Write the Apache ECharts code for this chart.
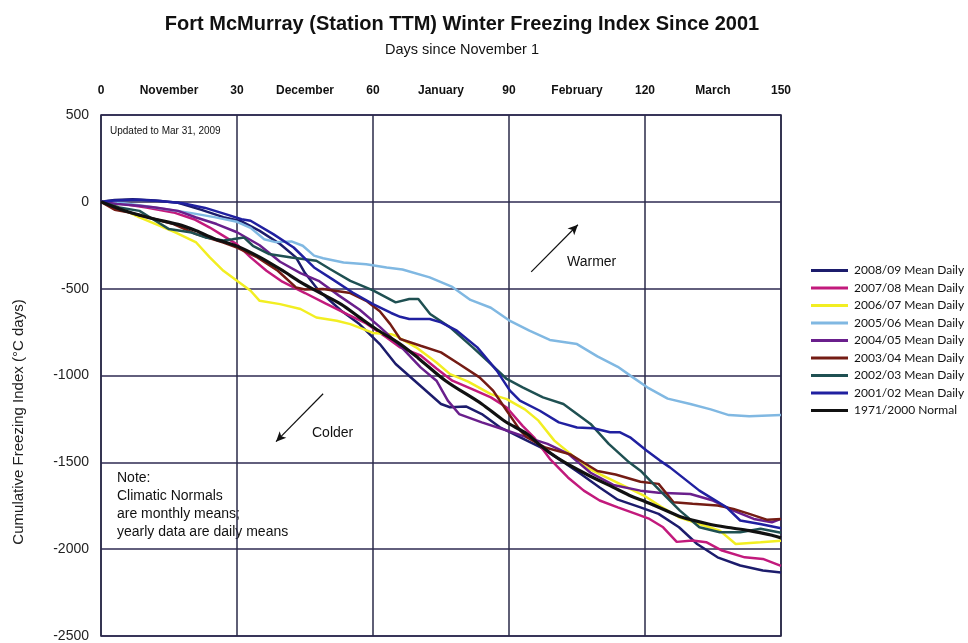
<!DOCTYPE html>
<html>
<head>
<meta charset="utf-8">
<script src="https://cdn.jsdelivr.net/npm/echarts@6/dist/echarts.min.js"></script>
<style>
  html, body { margin: 0; padding: 0; background: #fff; }
  #chart { width: 968px; height: 643px; }
</style>
</head>
<body>
<div id="chart"></div>
<script>
// Tick labels along the top axis (every 15 days: day counts and month names)
const topLabels = ['0', 'November', '30', 'December', '60', 'January', '90', 'February', '120', 'March', '150'];

// Series names in legend order
const seriesNames = [
  '2008/09 Mean Daily', '2007/08 Mean Daily', '2006/07 Mean Daily', '2005/06 Mean Daily',
  '2004/05 Mean Daily', '2003/04 Mean Daily', '2002/03 Mean Daily', '2001/02 Mean Daily',
  '1971/2000 Normal'
];

// Cumulative freezing index, [days since Nov 1, °C days]
const s2008 = [[0,0],[3,10],[7,15],[12,8],[17,-5],[22,-45],[27,-88],[31,-112],[35,-167],[39.5,-243],[43,-320],[45,-410],[48,-510],[53,-627],[57,-704],[61.5,-819],[65,-934],[70,-1049],[75,-1164],[77,-1183],[80.5,-1178],[84,-1222],[88,-1298],[92.5,-1356],[97,-1414],[101,-1480],[106,-1570],[110,-1645],[114,-1715],[119,-1759],[123,-1797],[127.5,-1874],[131.5,-1970],[136,-2047],[141,-2094],[146,-2123],[150,-2135]];
const s2007 = [[0,0],[5,-13],[10,-33],[16,-61],[20.5,-100],[24,-148],[27,-196],[30,-245],[33,-320],[36.5,-397],[40,-460],[45,-525],[49.5,-585],[54.5,-650],[58.5,-700],[63,-781],[66,-838],[70.5,-885],[74,-960],[77.5,-1030],[82,-1080],[86,-1126],[89.5,-1184],[93,-1290],[95.5,-1356],[99,-1480],[103,-1587],[106.5,-1663],[110,-1720],[114,-1759],[118,-1797],[121,-1826],[124,-1874],[127,-1958],[130.5,-1950],[133.5,-1960],[137,-2008],[142,-2047],[146,-2056],[150,-2096]];
const s2006 = [[0,0],[4,-33],[8.5,-90],[13,-138],[16.5,-177],[21,-234],[24,-320],[27,-397],[30,-455],[33,-512],[35,-570],[39.5,-589],[44,-617],[47.5,-666],[52,-685],[55,-704],[60,-755],[64,-762],[65,-771],[69.5,-838],[74,-925],[77,-992],[81,-1035],[86,-1107],[89.5,-1136],[93.5,-1195],[96.5,-1260],[100,-1375],[103.5,-1450],[107,-1529],[111.5,-1587],[116.5,-1650],[120,-1695],[123.5,-1755],[127.5,-1816],[132,-1855],[136.5,-1893],[140,-1970],[145.5,-1960],[150,-1951]];
const s2005 = [[0,0],[5,-8],[10,-25],[15,-45],[20,-65],[25,-88],[30,-115],[33,-150],[36,-215],[38.5,-232],[42,-228],[44.5,-253],[47,-310],[49,-325],[53.5,-349],[58.5,-360],[63,-378],[66.5,-390],[72.5,-435],[77.5,-490],[81.5,-565],[86,-610],[90,-682],[94.5,-742],[99,-795],[105,-819],[109.5,-890],[114,-950],[117,-1005],[120.5,-1068],[125,-1133],[130,-1164],[134.5,-1195],[138.5,-1228],[143,-1235],[150,-1228]];
const s2004 = [[0,0],[3.5,-13],[8.5,-23],[12,-33],[17,-52],[21,-90],[25.5,-128],[30,-175],[35,-250],[39.5,-345],[44,-410],[48,-455],[52.5,-540],[57,-620],[61.5,-720],[66,-830],[70.5,-953],[74,-1030],[76.5,-1145],[79,-1222],[84,-1270],[88.5,-1308],[94,-1356],[98.5,-1394],[103,-1450],[108,-1560],[113,-1630],[119,-1663],[123,-1675],[130,-1682],[135,-1720],[139.5,-1778],[144,-1826],[148,-1845],[150,-1826]];
const s2003 = [[0,0],[3,-45],[6,-60],[9,-80],[12,-100],[16,-128],[21,-186],[27,-234],[30,-263],[34.5,-320],[39,-397],[43,-493],[45,-505],[49,-502],[55,-525],[58.5,-570],[61.5,-630],[63.8,-704],[66,-790],[70.5,-829],[75,-867],[79,-934],[83.5,-1011],[86.5,-1087],[88,-1145],[89.5,-1203],[91,-1260],[92.5,-1318],[94,-1356],[98,-1415],[103.5,-1454],[109.5,-1550],[113.5,-1570],[119,-1612],[123,-1624],[126.3,-1730],[130.5,-1739],[136,-1749],[139.5,-1768],[143,-1797],[147,-1831],[150,-1826]];
const s2002 = [[0,0],[4,-33],[8.5,-52],[12,-109],[15,-157],[17.5,-167],[20,-177],[23,-205],[27,-222],[29,-215],[31.5,-205],[33.5,-253],[37,-300],[42,-320],[47.5,-339],[50.5,-387],[55,-455],[60,-510],[65,-579],[68,-560],[70,-560],[72.6,-646],[77,-723],[82,-838],[86,-934],[89.5,-1020],[93,-1068],[97.5,-1126],[102,-1164],[108,-1279],[112,-1394],[116.5,-1500],[119,-1548],[123.3,-1663],[127.7,-1778],[132,-1874],[136.5,-1903],[141,-1903],[145.5,-1883],[150,-1905]];
const s2001 = [[0,0],[3,8],[8,12],[13,5],[18,-8],[23,-35],[28,-75],[31,-100],[33,-109],[38,-186],[42.5,-263],[47,-378],[51,-445],[55.5,-522],[60,-589],[64,-640],[66,-662],[68,-675],[72.5,-675],[75,-694],[78.5,-742],[83,-838],[87.3,-972],[90.2,-1087],[92.4,-1145],[96.8,-1203],[101,-1270],[105,-1299],[108.6,-1304],[112.3,-1327],[114.5,-1327],[116.7,-1356],[120.4,-1433],[123.3,-1490],[125.5,-1529],[132,-1663],[138,-1759],[141,-1835],[145.4,-1855],[150,-1880]];
const sNormal = [[0,0],[5,-50],[9,-80],[12,-100],[17,-130],[21,-167],[25,-212],[30,-255],[35,-318],[40,-395],[44,-462],[48,-520],[53,-590],[57,-665],[61,-738],[66,-819],[70,-900],[76,-1030],[84,-1164],[89,-1262],[94,-1337],[97,-1405],[101,-1480],[107,-1567],[113,-1644],[117,-1695],[120,-1725],[124,-1770],[128,-1815],[134,-1855],[138,-1874],[143,-1893],[148,-1920],[150,-1935]];

const seriesData = [s2008, s2007, s2006, s2005, s2004, s2003, s2002, s2001, sNormal];
const seriesColors = ['#1c1c6c', '#c21a7c', '#f2ee22', '#80b8e2', '#6a1f8c', '#741c14', '#1f5052', '#2020a0', '#111111'];
const seriesWidths = [2.5, 2.5, 2.5, 2.5, 2.5, 2.5, 2.5, 2.5, 3.2];

const FONT = '"Liberation Sans", Arial, sans-serif';
const LEGEND_FONT = 'Lato, "Open Sans", sans-serif';

const chart = echarts.init(document.getElementById('chart'), null, { renderer: 'canvas' });

const lineSeries = seriesNames.map((name, i) => ({
  name: name,
  type: 'line',
  data: seriesData[i],
  showSymbol: false,
  symbol: 'none',
  smooth: i === 8 ? 0.3 : false,
  lineStyle: { color: seriesColors[i], width: seriesWidths[i] },
  itemStyle: { color: seriesColors[i] },
  z: i === 8 ? 5 : 3,
  animation: false
}));

// Direction hints drawn in data space
const arrowSeries = {
  name: 'hints',
  type: 'line',
  data: [],
  silent: true,
  animation: false,
  markLine: {
    silent: true,
    animation: false,
    symbol: ['none', 'arrow'],
    symbolSize: [7, 10],
    label: { show: false },
    lineStyle: { color: '#111', width: 1.2, type: 'solid' },
    data: [
      [{ coord: [94.9, -403] }, { coord: [105.2, -132] }],
      [{ coord: [49, -1105] }, { coord: [38.6, -1381] }]
    ]
  }
};

chart.setOption({
  backgroundColor: '#ffffff',
  animation: false,
  title: [
    {
      text: 'Fort McMurray (Station TTM) Winter Freezing Index Since 2001',
      left: 457, top: 9, textAlign: 'center',
      textStyle: { fontFamily: FONT, fontWeight: 'bold', fontSize: 20, color: '#111' }
    },
    {
      text: 'Days since November 1',
      left: 457, top: 37, textAlign: 'center',
      textStyle: { fontFamily: FONT, fontWeight: 'normal', fontSize: 14.5, color: '#111' }
    }
  ],
  legend: {
    orient: 'vertical',
    left: 806, top: 259,
    itemWidth: 37, itemHeight: 3,
    itemGap: 4.5,
    icon: 'rect',
    data: seriesNames,
    textStyle: { fontFamily: LEGEND_FONT, fontSize: 12, color: '#111', lineHeight: 13, padding: [0, 0, 0, 1] }
  },
  grid: {
    left: 101, top: 115, right: 187, bottom: 7,
    show: true, borderColor: '#232340', borderWidth: 1.5, backgroundColor: '#fff'
  },
  xAxis: [
    {
      type: 'value', min: 0, max: 150, interval: 30, position: 'bottom',
      axisLine: { show: false }, axisTick: { show: false }, axisLabel: { show: false },
      splitLine: { show: true, lineStyle: { color: '#2a2a48', width: 1.5 } }
    },
    {
      type: 'value', min: 0, max: 150, interval: 15, position: 'top',
      axisLine: { show: false }, axisTick: { show: false },
      splitLine: { show: false },
      axisLabel: {
        margin: 18,
        fontFamily: FONT, fontWeight: 'bold', fontSize: 12, color: '#111',
        formatter: v => topLabels[Math.round(v / 15)]
      }
    }
  ],
  yAxis: {
    type: 'value', min: -2500, max: 500, interval: 500,
    axisLine: { show: false }, axisTick: { show: false },
    axisLabel: {
      margin: 12, fontFamily: FONT, fontSize: 14, color: '#222',
      formatter: v => String(v)
    },
    splitLine: { show: true, lineStyle: { color: '#2e2a52', width: 1.5 } }
  },
  graphic: [
    {
      type: 'text',
      rotation: Math.PI / 2,
      x: 19, y: 422,
      style: {
        text: 'Cumulative Freezing Index (°C days)',
        fontFamily: FONT, fontSize: 15, fill: '#222',
        textAlign: 'center', textVerticalAlign: 'middle'
      }
    },
    {
      type: 'text', x: 110, y: 126,
      style: { text: 'Updated to Mar 31, 2009', fontFamily: FONT, fontSize: 10, fill: '#111' }
    },
    {
      type: 'text', x: 567, y: 255,
      style: { text: 'Warmer', fontFamily: FONT, fontSize: 14, fill: '#111' }
    },
    {
      type: 'text', x: 312, y: 426,
      style: { text: 'Colder', fontFamily: FONT, fontSize: 14, fill: '#111' }
    },
    {
      type: 'text', x: 117, y: 469,
      style: {
        text: 'Note:\nClimatic Normals\nare monthly means;\nyearly data are daily means',
        fontFamily: FONT, fontSize: 14, lineHeight: 18, fill: '#111'
      }
    }
  ],
  series: lineSeries.concat([arrowSeries])
});
</script>
</body>
</html>
